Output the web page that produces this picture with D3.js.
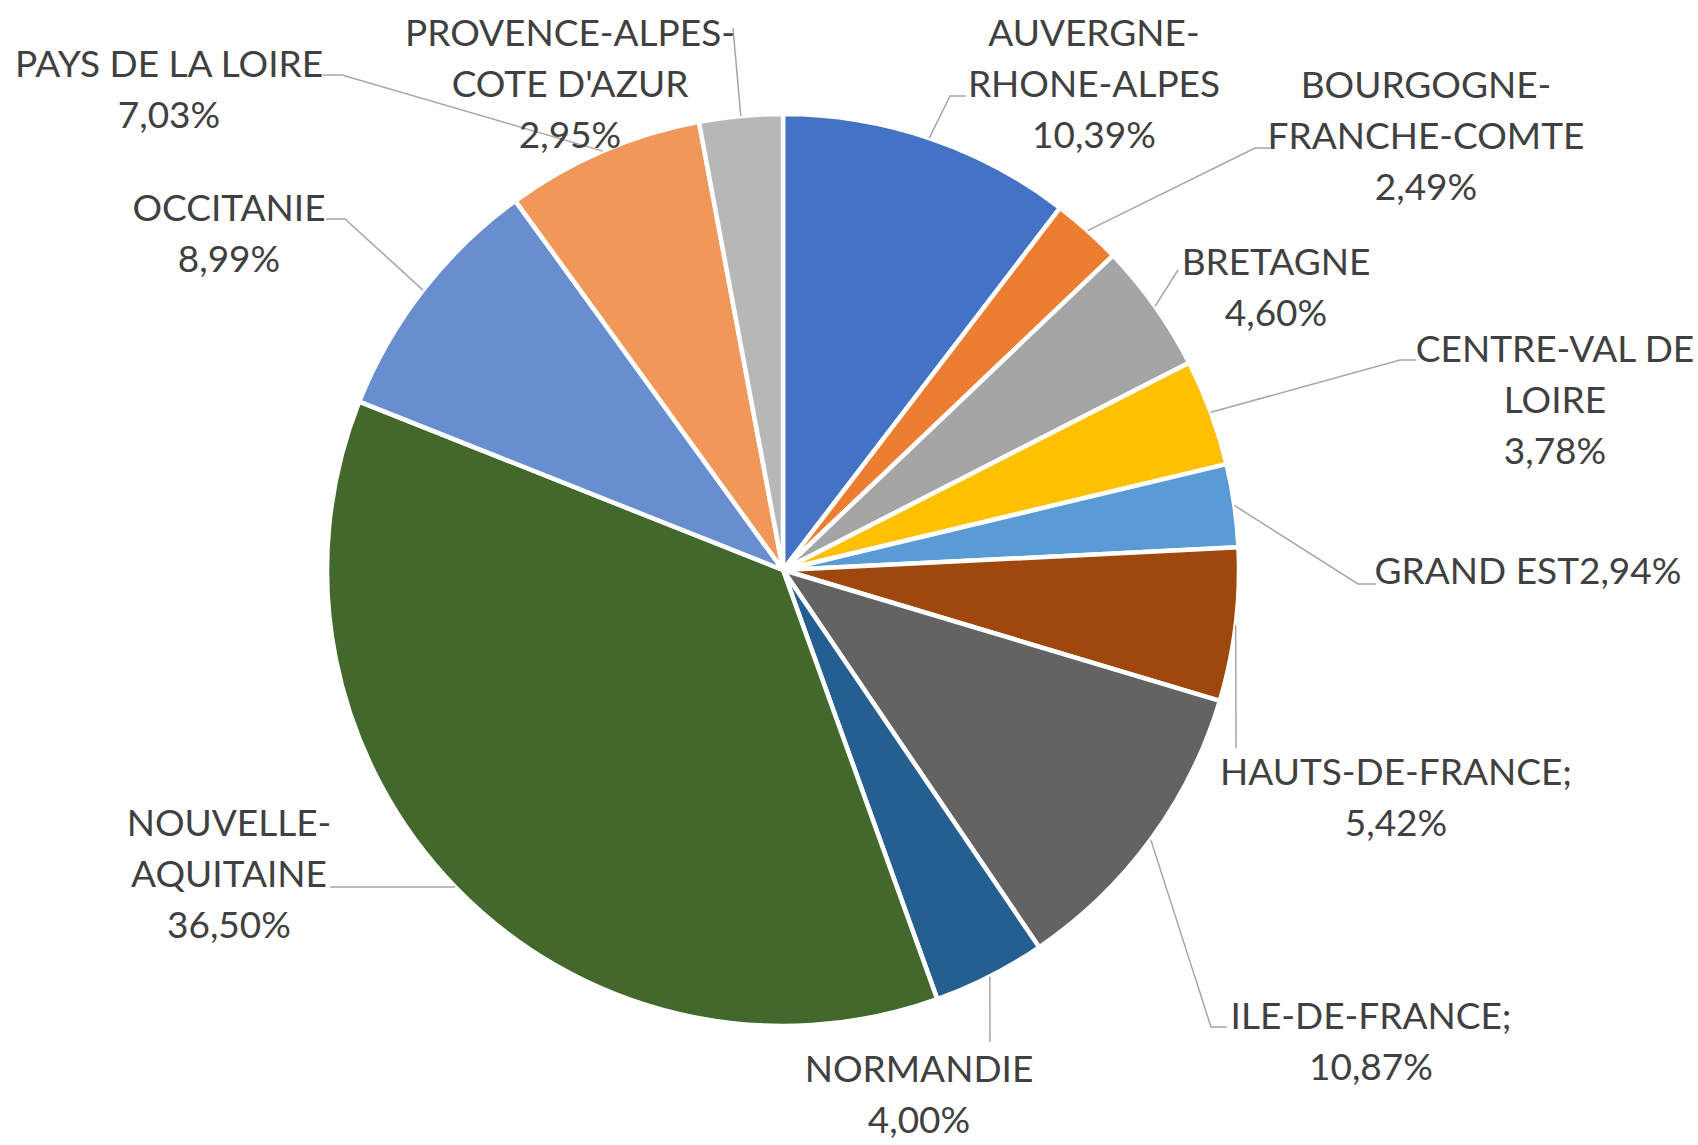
<!DOCTYPE html>
<html>
<head>
<meta charset="utf-8">
<script src="https://cdn.jsdelivr.net/npm/d3@7"></script>
<style>
  body { margin: 0; background: #fff; }
  svg text { font-family: Lato, "Noto Sans", sans-serif; fill: #404040; }
</style>
</head>
<body>
<div id="chart"></div>
<script>

////////////////////////////////////////////////////////////////////////
// Data: share of each region (in %), clockwise from 12 o'clock

const regions = [
  "AUVERGNE-RHONE-ALPES", "BOURGOGNE-FRANCHE-COMTE", "BRETAGNE",
  "CENTRE-VAL DE LOIRE", "GRAND EST", "HAUTS-DE-FRANCE", "ILE-DE-FRANCE",
  "NORMANDIE", "NOUVELLE-AQUITAINE", "OCCITANIE", "PAYS DE LA LOIRE",
  "PROVENCE-ALPES-COTE D'AZUR"
];

const shares = [10.39, 2.49, 4.60, 3.78, 2.94, 5.42, 10.87, 4.00, 36.50, 8.99, 7.03, 2.95];

// how each region name is wrapped in its label
const nameLines = [
  ["AUVERGNE-", "RHONE-ALPES"],
  ["BOURGOGNE-", "FRANCHE-COMTE"],
  ["BRETAGNE"],
  ["CENTRE-VAL DE", "LOIRE"],
  ["GRAND EST"],
  ["HAUTS-DE-FRANCE;"],
  ["ILE-DE-FRANCE;"],
  ["NORMANDIE"],
  ["NOUVELLE-", "AQUITAINE"],
  ["OCCITANIE"],
  ["PAYS DE LA LOIRE"],
  ["PROVENCE-ALPES-", "COTE D'AZUR"]
];

const colors = [
  "#4472C4", "#ED7D31", "#A5A5A5", "#FFC000", "#5B9BD5", "#9E480E",
  "#636363", "#255E91", "#43682B", "#698ED0", "#F1975A", "#B7B7B7"
];


////////////////////////////////////////////////////////////////////////
// Layout of the labels: centre x, first baseline, and the label end of
// each leader line (the other end sits on the slice edge)

const labelPos = [
  [1094, 46], [1426, 98], [1276, 275], [1555, 362], [1528, 584], [1396, 785],
  [1371, 1029], [919, 1082], [229, 836], [229, 221], [169, 77], [570, 46]
];
const inlinePct = [false, false, false, false, true, false,
                   false, false, false, false, false, false];

const leaderPts = [
  [[966, 96], [950, 96]],
  [[1270, 148], [1255, 148]],
  [[1178, 270]],
  [[1416, 360], [1400, 360]],
  [[1376, 584], [1358, 584]],
  [[1236, 748]],
  [[1227, 1027], [1211, 1027]],
  [[990, 1042]],
  [[330, 887]],
  [[326, 219], [345, 219]],
  [[323, 75], [342, 75]],
  [[733, 28]]
];

const width = 1698;
const height = 1145;
const cx = 783;
const cy = 570;
const radius = 456;
const lineHeight = 51;

const fr = d3.formatLocale({ decimal: ",", thousands: " ", grouping: [3], currency: ["", " €"] });
const fmtPct = v => fr.format(".2f")(v) + "%";

const svg = d3.select("#chart").append("svg")
  .attr("width", width)
  .attr("height", height);

const pie = d3.pie().sort(null).value(d => d);
const arcs = pie(shares);

const arc = d3.arc().innerRadius(0).outerRadius(radius);
const edgeArc = d3.arc().innerRadius(radius).outerRadius(radius);

const g = svg.append("g").attr("transform", `translate(${cx},${cy})`);

// Leader lines (drawn first so labels sit on top)
const line = d3.line();
svg.append("g")
  .selectAll("path")
  .data(arcs)
  .enter().append("path")
  .attr("d", (d, i) => {
    const [ex, ey] = edgeArc.centroid(d);
    return line(leaderPts[i].concat([[cx + ex, cy + ey]]));
  })
  .attr("fill", "none")
  .attr("stroke", "#A6A6A6")
  .attr("stroke-width", 1.5);

// Slices
g.selectAll("path")
  .data(arcs)
  .enter().append("path")
  .attr("d", arc)
  .attr("fill", (d, i) => colors[i])
  .attr("stroke", "#fff")
  .attr("stroke-width", 4.5)
  .attr("stroke-linejoin", "round");

// Labels
const labels = svg.append("g")
  .selectAll("text")
  .data(arcs)
  .enter().append("text")
  .attr("text-anchor", "middle")
  .attr("font-size", 37);

labels.each(function(d, i) {
  const t = d3.select(this);
  let lines = nameLines[i].slice();
  if (inlinePct[i]) lines[lines.length - 1] += fmtPct(shares[i]);
  else lines.push(fmtPct(shares[i]));
  lines.forEach((s, k) => {
    t.append("tspan")
      .attr("x", labelPos[i][0])
      .attr("y", labelPos[i][1] + k * lineHeight)
      .text(s);
  });
});

</script>
</body>
</html>
